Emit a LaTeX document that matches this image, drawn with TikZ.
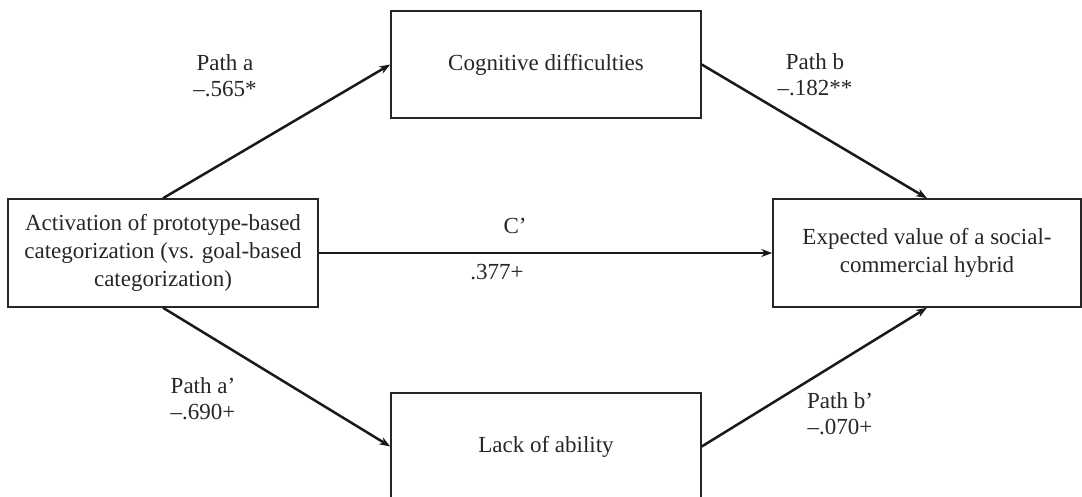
\documentclass[tikz,border=0pt]{standalone}
\usepackage{fontspec}
\setmainfont{Liberation Serif}
\usetikzlibrary{arrows.meta}
\begin{document}
\begin{tikzpicture}[x=1pt,y=1pt,
  box/.style={draw=black!85,line width=1.5pt,minimum width=310pt,minimum height=108pt,align=center,inner sep=0pt,font=\fontsize{23}{28}\selectfont,text=black!85},
  lbl/.style={align=center,font=\fontsize{23}{26}\selectfont,text=black!85,inner sep=0pt},
  conn/.style={line width=2.5pt,draw=black!90,-{Stealth[length=11pt,width=8pt]}}]
\useasboundingbox (0,0) rectangle (1082,496);
\clip (0,0) rectangle (1082,496);
\node[box] (L) at (163,243) {Activation of prototype-based\\categorization (vs. goal-based\\categorization)};
\node[box,minimum height=107pt] (T) at (546,431.5) {Cognitive difficulties};
\node[box,minimum height=107pt] (B) at (546,49.5) {Lack of ability};
\node[box,minimum width=308pt] (R) at (927,243) {Expected value of a social-\\commercial hybrid};
\draw[conn] (L.north) -- (T.west);
\draw[conn] (T.east) -- (R.north);
\draw[conn] (L.south) -- (B.west);
\draw[conn] (B.east) -- (R.south);
\draw[conn] (L.east) -- (R.west);
\node[lbl] (la) at (225,420) {Path a\\–.565*};
\node[lbl] (lb) at (815,421) {Path b\\–.182**};
\node[lbl] (lc) at (515,270) {C’};
\node[lbl] (ld) at (497,224) {.377+};
\node[lbl] (lap) at (203,97) {Path a’\\–.690+};
\node[lbl] (lbp) at (840,82) {Path b’\\–.070+};
\end{tikzpicture}
\end{document}
